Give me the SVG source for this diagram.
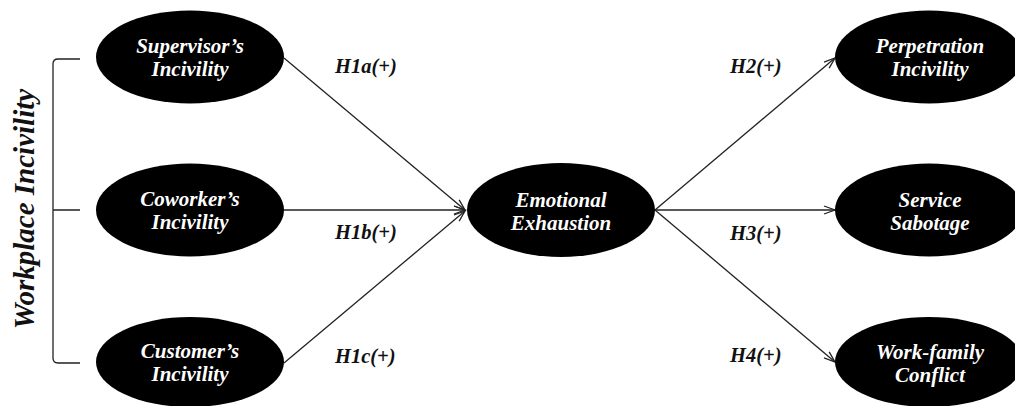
<svg xmlns="http://www.w3.org/2000/svg" width="1015" height="406" viewBox="0 0 1015 406">
<style>
.node{fill:#000}
.cn{stroke:#222;stroke-width:1.3;fill:none}
.br{stroke:#222;stroke-width:1.3;fill:none}
</style>
<defs>
<marker id="arr" markerWidth="14" markerHeight="10" refX="12" refY="5" orient="auto" markerUnits="userSpaceOnUse">
<path d="M1,1 L12,5 L1,9" fill="none" stroke="#222" stroke-width="1.3"/>
</marker>
</defs>
<rect width="1015" height="406" fill="#fff"/>
<g id="bracket">
<path class="br" d="M80,59 L58,59 Q53,59 53,64 L53,358 Q53,363 58,363 L80,363 M53,210 L80,210"/>
<text transform="translate(34,209) rotate(-90)" font-family="'Liberation Serif', serif" font-weight="bold" font-style="italic" font-size="29" text-anchor="middle" fill="#111">Workplace Incivility</text>
</g>
<g id="connectors">
<line class="cn" x1="284" y1="58" x2="465" y2="210" marker-end="url(#arr)"/>
<line class="cn" x1="284" y1="210" x2="465" y2="210" marker-end="url(#arr)"/>
<line class="cn" x1="284" y1="363" x2="465" y2="211" marker-end="url(#arr)"/>
<line class="cn" x1="655" y1="210" x2="835" y2="58" marker-end="url(#arr)"/>
<line class="cn" x1="655" y1="210" x2="835" y2="210" marker-end="url(#arr)"/>
<line class="cn" x1="655" y1="210" x2="835" y2="362" marker-end="url(#arr)"/>
</g>
<g id="labels" font-family="'Liberation Serif', serif" font-weight="bold" font-style="italic" font-size="20.5" fill="#111">
<text x="335" y="73">H1a(+)</text>
<text x="335" y="239">H1b(+)</text>
<text x="335" y="363">H1c(+)</text>
<text x="730" y="73">H2(+)</text>
<text x="730" y="240">H3(+)</text>
<text x="730" y="362">H4(+)</text>
</g>
<g id="nodes" font-family="'Liberation Serif', serif" font-weight="bold" font-style="italic" font-size="21" text-anchor="middle">
<g id="supervisor">
<ellipse class="node" cx="190" cy="57" rx="94" ry="46.5"/>
<text fill="#fff" x="190" y="53">Supervisor’s</text>
<text fill="#fff" x="190" y="76">Incivility</text>
</g>
<g id="coworker">
<ellipse class="node" cx="190" cy="210" rx="94" ry="46.5"/>
<text fill="#fff" x="190" y="206">Coworker’s</text>
<text fill="#fff" x="190" y="229">Incivility</text>
</g>
<g id="customer">
<ellipse class="node" cx="190" cy="362" rx="94" ry="45"/>
<text fill="#fff" x="190" y="358">Customer’s</text>
<text fill="#fff" x="190" y="381">Incivility</text>
</g>
<g id="emotional">
<ellipse class="node" cx="561" cy="210" rx="94" ry="47"/>
<text fill="#fff" x="561" y="207">Emotional</text>
<text fill="#fff" x="561" y="230">Exhaustion</text>
</g>
<g id="perpetration">
<ellipse class="node" cx="929" cy="57" rx="94" ry="46.5"/>
<text fill="#fff" x="930" y="53">Perpetration</text>
<text fill="#fff" x="930" y="76">Incivility</text>
</g>
<g id="sabotage">
<ellipse class="node" cx="929" cy="210" rx="94" ry="46.5"/>
<text fill="#fff" x="930" y="207">Service</text>
<text fill="#fff" x="930" y="230">Sabotage</text>
</g>
<g id="workfamily">
<ellipse class="node" cx="929" cy="362" rx="94" ry="45"/>
<text fill="#fff" x="930" y="359">Work-family</text>
<text fill="#fff" x="930" y="382">Conflict</text>
</g>
</g>
</svg>
